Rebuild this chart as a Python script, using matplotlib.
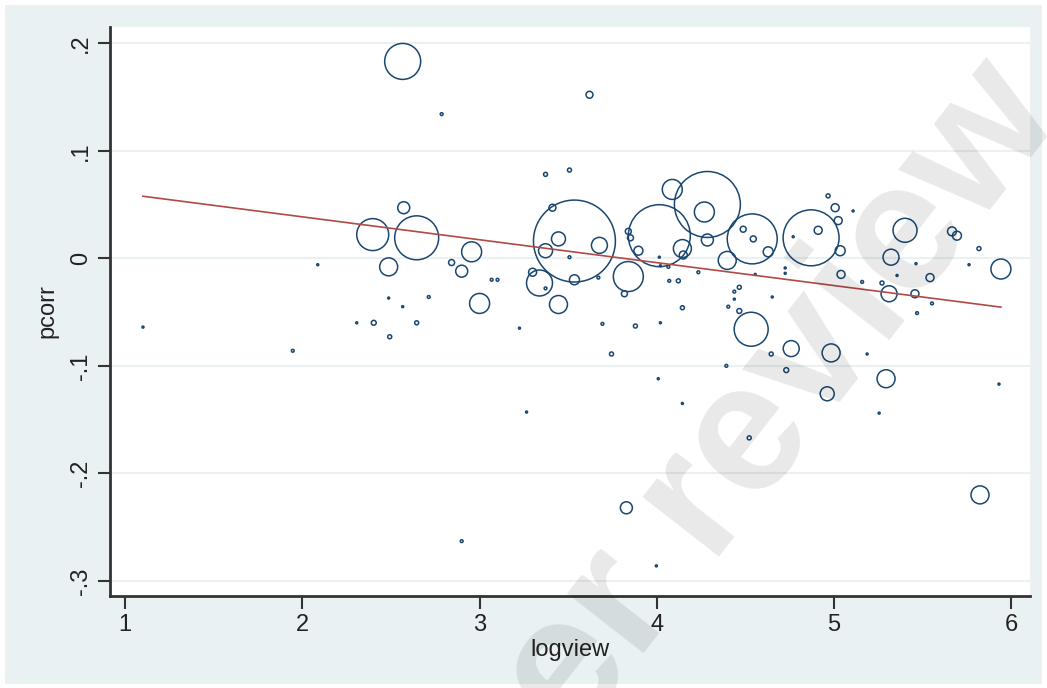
import numpy as np
import matplotlib
matplotlib.use("Agg")
import matplotlib.pyplot as plt
from matplotlib.patches import Rectangle

# ---- data ----
logview = [
    2.566, 2.786, 3.620, 3.372, 3.507, 2.572, 2.397, 2.645, 2.487, 2.955,
    2.842, 2.899, 3.068, 3.101, 3.000, 2.487, 2.566, 2.713, 2.307, 2.403,
    2.645, 2.493, 1.101, 2.087, 1.946, 2.899,
    3.535, 3.411, 3.445, 3.372, 3.676, 3.507, 3.535, 3.670, 3.299, 3.338,
    3.372, 3.445, 3.225, 3.693, 3.879, 3.744, 3.265, 3.839, 3.851, 3.896,
    3.839, 3.817, 3.828, 3.997,
    4.014, 4.087, 4.285, 4.268, 4.285, 4.144, 4.149, 4.397, 4.014, 4.020,
    4.065, 4.234, 4.070, 4.121, 4.144, 4.020, 4.008, 4.144, 4.392, 4.437,
    4.465, 4.437, 4.465, 4.403, 4.487, 4.544, 4.538, 4.628, 4.651, 4.724,
    4.724, 4.555, 4.532, 4.521, 4.645, 4.758, 4.730,
    4.870, 4.769, 4.910, 4.966, 5.006, 5.107, 5.023, 5.034, 5.039, 4.983,
    5.186, 5.293, 4.961, 5.254, 5.400, 5.321, 5.462, 5.541, 5.665, 5.693,
    5.817, 5.761, 5.941, 5.158, 5.270, 5.310, 5.456, 5.552, 5.468, 5.355,
    5.930, 5.823,
]
pcorr = [
    0.183, 0.134, 0.152, 0.078, 0.082, 0.047, 0.022, 0.019, -0.008, 0.006,
    -0.004, -0.012, -0.020, -0.020, -0.042, -0.037, -0.045, -0.036, -0.060, -0.060,
    -0.060, -0.073, -0.064, -0.006, -0.086, -0.263,
    0.016, 0.047, 0.018, 0.007, 0.012, 0.001, -0.020, -0.018, -0.013, -0.023,
    -0.028, -0.043, -0.065, -0.061, -0.063, -0.089, -0.143, 0.025, 0.019, 0.007,
    -0.017, -0.033, -0.232, -0.286,
    0.021, 0.064, 0.050, 0.043, 0.017, 0.009, 0.003, -0.002, 0.001, -0.007,
    -0.008, -0.013, -0.021, -0.021, -0.046, -0.060, -0.112, -0.135, -0.100, -0.031,
    -0.027, -0.038, -0.049, -0.045, 0.027, 0.018, 0.018, 0.006, -0.036, -0.009,
    -0.014, -0.015, -0.066, -0.167, -0.089, -0.084, -0.104,
    0.019, 0.020, 0.026, 0.058, 0.047, 0.044, 0.035, 0.007, -0.015, -0.088,
    -0.089, -0.112, -0.126, -0.144, 0.026, 0.001, -0.005, -0.018, 0.025, 0.021,
    0.009, -0.006, -0.010, -0.022, -0.023, -0.033, -0.033, -0.042, -0.051, -0.016,
    -0.117, -0.220,
]
weight = [
    324, 2, 12, 4, 4, 36, 256, 484, 81, 100,
    9, 36, 2, 2, 100, 1, 1, 2, 1, 6,
    4, 4, 1, 1, 2, 2,
    1681, 12, 49, 49, 64, 2, 25, 2, 16, 169,
    2, 81, 1, 2, 4, 4, 1, 9, 9, 20,
    225, 9, 36, 1,
    961, 100, 1089, 100, 36, 81, 16, 81, 1, 1,
    2, 2, 2, 4, 4, 1, 1, 1, 2, 2,
    4, 1, 6, 2, 9, 9, 625, 25, 1, 1,
    1, 1, 289, 4, 4, 64, 6,
    784, 1, 16, 4, 16, 1, 16, 25, 16, 81,
    1, 81, 49, 1, 144, 64, 1, 16, 20, 20,
    4, 1, 100, 2, 4, 64, 16, 2, 2, 1,
    1, 81,
]
fit_intercept = 0.0811
fit_slope = -0.0213

ytick_vals = [-0.3, -0.2, -0.1, 0.0, 0.1, 0.2]
ytick_labels = ["-.3", "-.2", "-.1", "0", ".1", ".2"]
xtick_vals = [1, 2, 3, 4, 5, 6]
xtick_labels = ["1", "2", "3", "4", "5", "6"]

# ---- figure ----
plt.rcParams['font.family'] = ['Liberation Sans', 'DejaVu Sans']
W, H = 1047, 688
fig = plt.figure(figsize=(W / 100, H / 100), dpi=100, facecolor='white')
bg = '#EAF1F3'
fig.patches.append(Rectangle((5 / W, 4 / H), 1 - 10 / W, 1 - 9 / H,
                             transform=fig.transFigure, facecolor=bg,
                             edgecolor='none', zorder=-10))

ax = fig.add_axes([110 / W, (H - 596) / H, (1030 - 110) / W, (596 - 27) / H])
ax.set_facecolor('white')

x = np.array(logview)
y = np.array(pcorr)
w = np.array(weight, dtype=float)
ax.scatter(x, y, s=2.07 * w, facecolors='none', edgecolors='#1a476f',
           linewidths=1.1, zorder=3)

xs = np.array([x.min(), x.max()])
ax.plot(xs, fit_intercept + fit_slope * xs, color='#b04a46', lw=1.2, zorder=4)

ax.set_xlim(0.915, 6.105)
ax.set_ylim(-0.314, 0.215)
ax.set_yticks(ytick_vals)
ax.set_yticklabels(ytick_labels, rotation=90, va='center')
ax.set_xticks(xtick_vals)
ax.set_xticklabels(xtick_labels)
ax.tick_params(axis='both', length=9, width=1.5, color='#333333',
               labelsize=17, labelcolor='#222222', pad=4)
ax.grid(axis='y', color='#EAF1F3', lw=1.5, zorder=0)
ax.set_axisbelow(True)
for side in ['top', 'right']:
    ax.spines[side].set_visible(False)
for side in ['left', 'bottom']:
    ax.spines[side].set_linewidth(2)
    ax.spines[side].set_color('#333333')

ax.set_xlabel('logview', fontsize=17, color='#222222', labelpad=2)
ax.set_ylabel('pcorr', fontsize=17, color='#222222', labelpad=8)

# watermark
fig.text(1063 / W, 1 - 116 / H, 'peer review', fontsize=132, fontweight='bold',
         color='black', alpha=0.09, rotation=52, rotation_mode='anchor',
         ha='right', va='baseline', zorder=20)

fig.savefig('out.png', dpi=100, facecolor=fig.get_facecolor())
